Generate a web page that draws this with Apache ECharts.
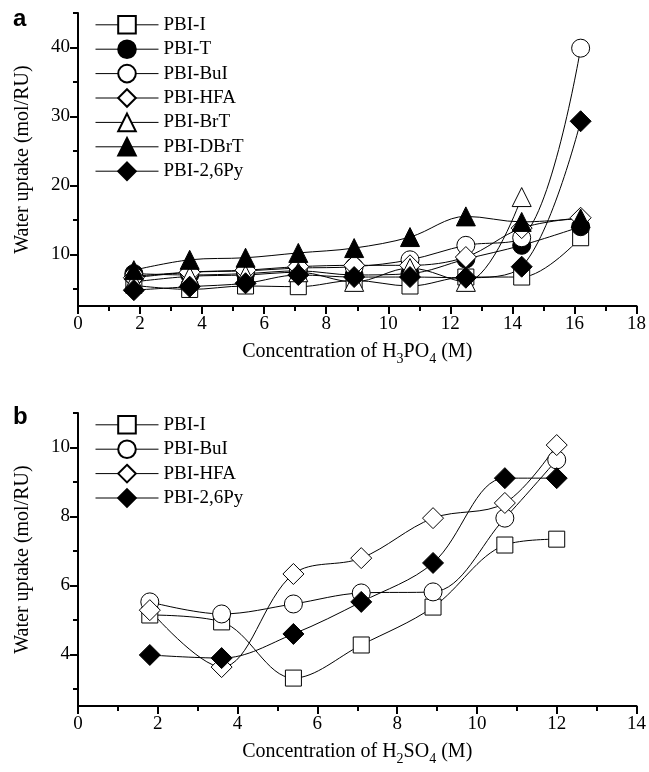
<!DOCTYPE html>
<html><head><meta charset="utf-8">
<script src="https://cdn.jsdelivr.net/npm/echarts@6/dist/echarts.min.js"></script>
<style>html,body{margin:0;padding:0;background:#fff}#c{width:649px;height:772px}</style>
</head><body><div id="c"></div>
<script>
// ---- Panel a: H3PO4 ----
var aNames = ['PBI-I','PBI-T','PBI-BuI','PBI-HFA','PBI-BrT','PBI-DBrT','PBI-2,6Py'];
var aX = [1.8, 3.6, 5.4, 7.1, 8.9, 10.7, 12.5, 14.3, 16.2];
var aI    = [5.5, 4.9, 5.4, 5.3, 6.2, 5.4, 6.7, 6.7, 12.4];
var aT    = [7.2, 7.0, 7.2, 7.6, 7.0, 7.2, 9.3, 11.3, 14.0];
var aBuI  = [6.8, 7.4, 7.6, 8.0, 8.2, 9.2, 11.3, 12.4, 39.9];
var aHFA  = [6.6, 7.4, 7.7, 8.2, 8.4, 8.4, 9.6, 13.8, 15.3];
var aBrT  = [6.0, 6.8, 7.0, 7.4, 6.0, 8.0, 6.0, 18.3];
var aDBrT = [7.7, 9.2, 9.5, 10.2, 10.9, 12.5, 15.5, 14.7, 15.2];
var aPy   = [4.8, 5.3, 5.8, 7.0, 6.7, 6.7, 6.6, 8.2, 29.3];
var aXTicks = [0,2,4,6,8,10,12,14,16,18];
var aYMajor = [10,20,30,40];
var aYMinor = [5,15,25,35,45];

// ---- Panel b: H2SO4 ----
var bNames = ['PBI-I','PBI-BuI','PBI-HFA','PBI-2,6Py'];
var bX = [1.8, 3.6, 5.4, 7.1, 8.9, 10.7, 12.0];
var bI   = [5.14, 4.94, 3.31, 4.27, 5.37, 7.17, 7.34];
var bBuI = [5.52, 5.17, 5.46, 5.78, 5.81, 7.95, 9.64];
var bHFA = [5.28, 3.63, 6.33, 6.79, 7.95, 8.39, 10.07];
var bPy  = [3.98, 3.89, 4.59, 5.52, 6.65, 9.11, 9.11];
var bXTicks = [0,2,4,6,8,10,12,14];
var bYMajor = [4,6,8,10];
var bYMinor = [3,5,7,9,11];

var FONT = 'Liberation Serif';
var styles = {
  'PBI-I':    {symbol:'rect', size:16, fill:'#fff'},
  'PBI-T':    {symbol:'circle', size:18, fill:'#000'},
  'PBI-BuI':  {symbol:'circle', size:18, fill:'#fff'},
  'PBI-HFA':  {symbol:'diamond', size:21, fill:'#fff'},
  'PBI-BrT':  {symbol:'triangle', size:19, fill:'#fff'},
  'PBI-DBrT': {symbol:'triangle', size:19, fill:'#000'},
  'PBI-2,6Py':{symbol:'diamond', size:21, fill:'#000'}
};
function pairs(xs, ys){ return ys.map(function(v,i){ return [xs[i], v]; }); }
function mkSeries(name, xs, ys, gi){
  var s = styles[name];
  return {
    name: name, type:'line', xAxisIndex: gi, yAxisIndex: gi*2,
    data: pairs(xs, ys), smooth: 0.35,
    symbol: s.symbol, symbolSize: s.size,
    lineStyle: {color:'#000', width:1},
    itemStyle: {color: s.fill, borderColor:'#000', borderWidth:1},
    emphasis: {disabled:true}, animation:false
  };
}
var axisLine = {show:true, lineStyle:{color:'#000', width:2}};
var labelStyle = {color:'#000', fontFamily:FONT, fontSize:19};
function xAxis(gi, max, ticks, sub1, sub2){
  return {
    type:'value', gridIndex: gi, min:0, max:max, interval:2,
    axisLine: axisLine,
    axisTick: {show:true, inside:false, length:8, lineStyle:{color:'#000', width:2}},
    minorTick: {show:true, splitNumber:2, length:5, lineStyle:{color:'#000', width:2}},
    splitLine:{show:false},
    axisLabel: Object.assign({margin:9, customValues: ticks}, labelStyle),
    name: '{n|Concentration of H}{s|'+sub1+'}{n|'+sub2+'}{s|4}{n| (M)}',
    nameLocation:'middle', nameGap: 36,
    nameTextStyle: {rich:{
      n:{fontFamily:FONT, fontSize:20, color:'#000', lineHeight:24, verticalAlign:'top'},
      s:{fontFamily:FONT, fontSize:14, color:'#000', lineHeight:24, verticalAlign:'top', padding:[10,0,0,0]}
    }}
  };
}
function yAxes(gi, min, max, major, minor){
  return [{
    type:'value', gridIndex: gi, min:min, max:max,
    axisLine: axisLine,
    axisTick: {show:true, length:8, customValues: major, lineStyle:{color:'#000', width:2}},
    splitLine:{show:false},
    axisLabel: Object.assign({margin:8, customValues: major}, labelStyle),
    name:'Water uptake (mol/RU)', nameLocation:'middle', nameGap:45, nameRotate:90,
    nameTextStyle:{fontFamily:FONT, fontSize:20, color:'#000'}
  },{
    type:'value', gridIndex: gi, min:min, max:max, position:'left',
    axisLine:{show:false},
    axisTick:{show:true, length:5, customValues: minor, lineStyle:{color:'#000', width:2}},
    axisLabel:{show:false, customValues: minor}, splitLine:{show:false}
  }];
}
var legendText = {fontFamily:FONT, fontSize:19, color:'#000'};
var series = [];
var aData = [aI, aT, aBuI, aHFA, aBrT, aDBrT, aPy];
aNames.forEach(function(n,i){ series.push(mkSeries(n, aX, aData[i], 0)); });
var bData = [bI, bBuI, bHFA, bPy];
bNames.forEach(function(n,i){ var s = mkSeries(n, bX, bData[i], 1); s.name = n + ' '; series.push(s); });

var legendCommon = {orient:'vertical', left:90, itemWidth:63, itemHeight:22, itemGap:4.8,
  textStyle: legendText, selectedMode:false, lineStyle:{width:1, color:'#000'}};
var option = {
  backgroundColor:'#fff', animation:false,
  grid: [{left:78, top:13, width:559, height:293},
         {left:78, top:413, width:559, height:293}],
  xAxis: [xAxis(0, 18, aXTicks, '3', 'PO'), xAxis(1, 14, bXTicks, '2', 'SO')],
  yAxis: yAxes(0, 2.5, 45, aYMajor, aYMinor).concat(yAxes(1, 2.5, 11, bYMajor, bYMinor)),
  title: [
    {text:'a', left:8, top:2, textStyle:{fontFamily:'Liberation Sans', fontWeight:'bold', fontSize:24, color:'#000'}},
    {text:'b', left:8, top:400, textStyle:{fontFamily:'Liberation Sans', fontWeight:'bold', fontSize:24, color:'#000'}}
  ],
  legend: [
    Object.assign({data: aNames, top:10}, legendCommon),
    Object.assign({data: bNames.map(function(n){return n+' ';}), top:410,
      formatter: function(n){ return n.trim(); }}, legendCommon)
  ],
  series: series
};
var chart = echarts.init(document.getElementById('c'), null, {renderer:'canvas'});
chart.setOption(option);
</script></body></html>
